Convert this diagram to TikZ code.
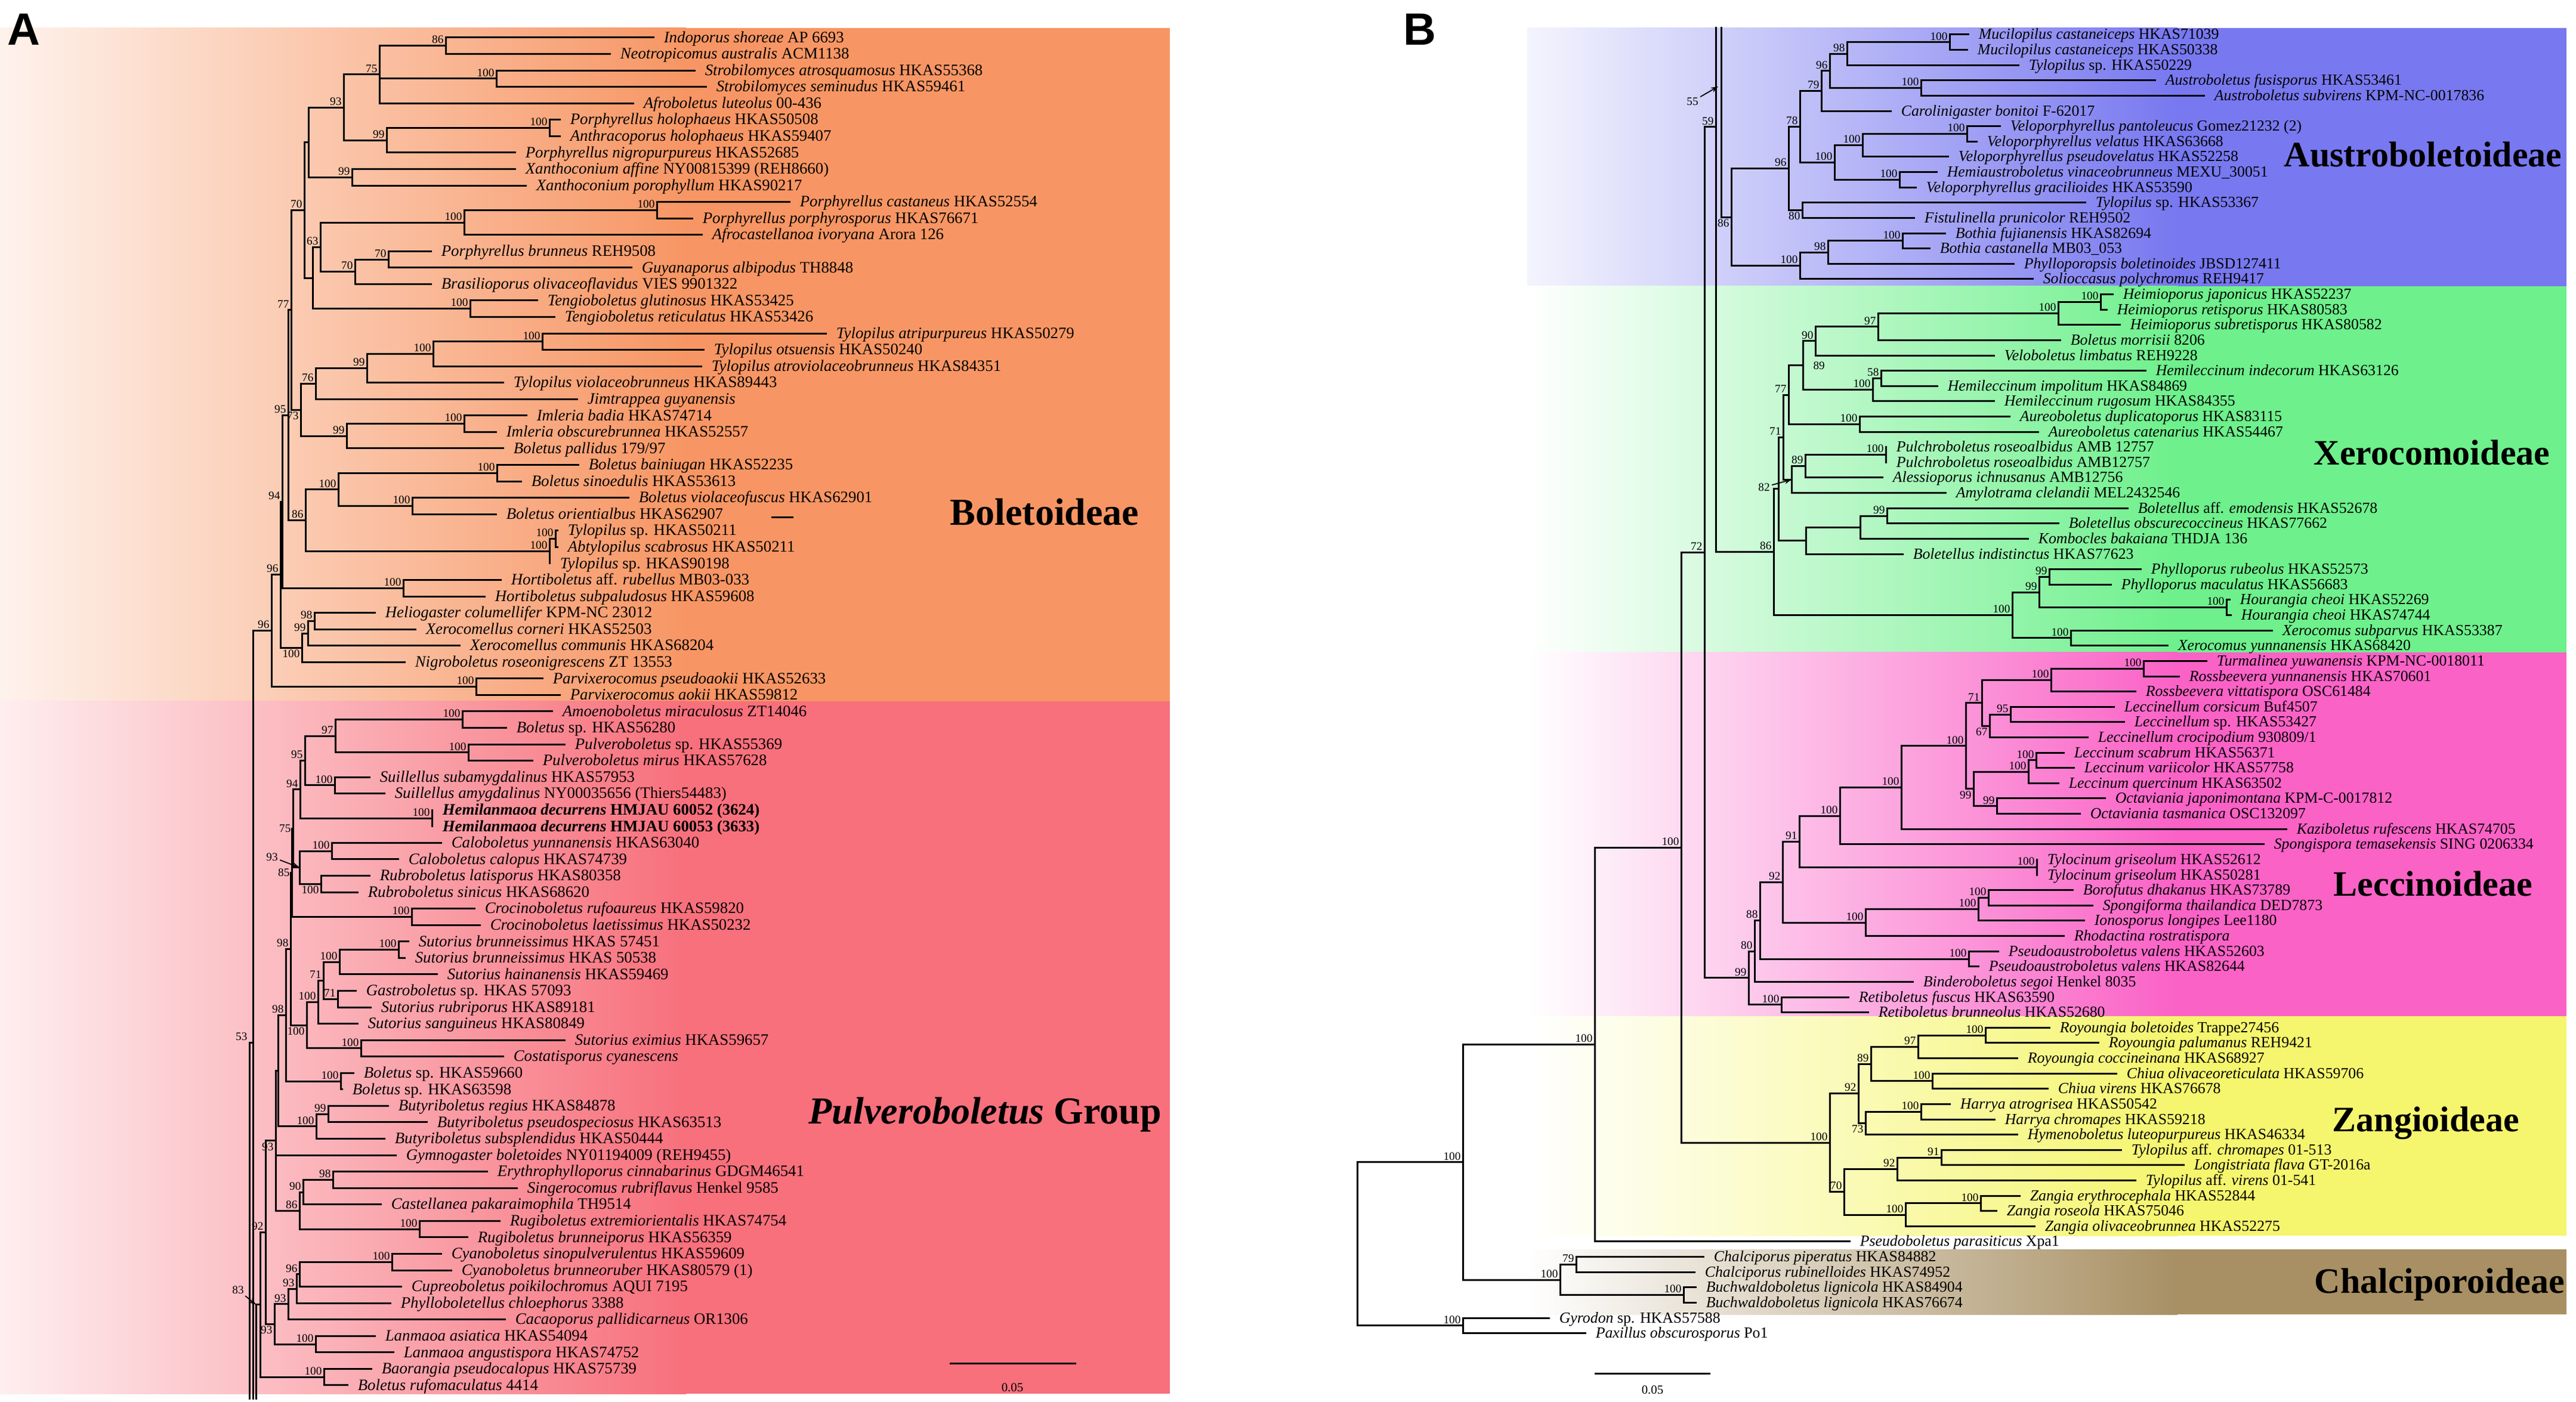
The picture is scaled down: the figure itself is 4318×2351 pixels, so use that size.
\documentclass[tikz,border=0pt]{standalone}
\usepackage{fontspec}
\setmainfont{Liberation Serif}
\newfontfamily\lsans{Liberation Sans}
\usetikzlibrary{calc,arrows.meta}
\definecolor{bolc}{RGB}{247,150,100}
\definecolor{pulc}{RGB}{247,112,124}
\definecolor{ausc}{RGB}{120,120,240}
\definecolor{xerc}{RGB}{110,240,140}
\definecolor{lecc}{RGB}{250,98,198}
\definecolor{zanc}{RGB}{245,245,110}
\definecolor{chac}{RGB}{168,144,100}
\newcommand\ti[1]{\textit{#1}}
\tikzset{
 br/.style={line width=0.75pt, line cap=rect},
 lfA/.style={anchor=base west, inner sep=0pt, yshift=-2.05pt, font=\fontsize{6.7}{7}\selectfont},
 lfB/.style={anchor=base west, inner sep=0pt, yshift=-2pt, font=\fontsize{6.45}{7}\selectfont},
 bs/.style={inner sep=0.7pt, font=\fontsize{4.8}{5}\selectfont},
 bsb/.style={anchor=north east},
 bsl/.style={anchor=east},
 arr/.style={-{Stealth[length=3pt,width=2.2pt]}, line width=0.45pt},
 clade/.style={anchor=base west, inner sep=0pt, font=\bfseries\fontsize{15}{15}\selectfont},
 cladeA/.style={anchor=base west, inner sep=0pt, font=\bfseries\fontsize{16}{16}\selectfont},
 panel/.style={anchor=north west, inner sep=0pt, font=\lsans\bfseries\fontsize{19}{19}\selectfont},
 sbar/.style={line width=0.75pt},
 sblab/.style={inner sep=0pt, font=\fontsize{5.2}{6}\selectfont}
}
\newcommand\LA[3]{\coordinate (la#1) at (#2,{63+(#1-1)*27.56});\node[lfA] (ta#1) at ($(la#1)+(17,0)$) {#3};}
\newcommand\LB[3]{\coordinate (lb#1) at (#2,{58+(#1-1)*25.62});\node[lfB] (tb#1) at ($(lb#1)+(17,0)$) {#3};}
\newcommand\CL[7][anchor=south east]{%
 \coordinate (#2x) at (#3,0);
 \path ($(#4)!0.5!(#5)$) coordinate (#2m);
 \coordinate (#2) at (#2x |- #2m);
 \draw[br] (#2 |- #4) -- (#2 |- #5);
 \foreach \ch in {#6} {\draw[br] (#2 |- \ch) -- (\ch);}
 \node[bs,#1] (#2l) at (#2) {#7};}
\newcommand\CB[6][anchor=south east]{\CL[#1]{#2}{#3}{#4}{#5}{#4,#5}{#6}}
\begin{document}
\begin{tikzpicture}[x=0.25pt,y=-0.25pt]
\useasboundingbox (0,0) rectangle (4318,2351);
\fill[white] (0,0) rectangle (4318,2351);
% ---------- backgrounds ----------
\shade[left color=bolc!12!white, right color=bolc] (0,47) rectangle (1150,1176);
\fill[bolc] (1149,47) rectangle (1961,1176);
\shade[left color=pulc!12!white, right color=pulc] (0,1176) rectangle (1150,2337);
\fill[pulc] (1149,1176) rectangle (1961,2337);
\shade[left color=ausc!8!white, right color=ausc] (2560,47) rectangle (3650,480);
\fill[ausc] (3649,47) rectangle (4302,480);
\shade[left color=white, right color=xerc] (2560,480) rectangle (3650,1094);
\fill[xerc] (3649,480) rectangle (4302,1094);
\shade[left color=white, right color=lecc] (2560,1094) rectangle (3650,1704);
\fill[lecc] (3649,1094) rectangle (4302,1704);
\shade[left color=white, right color=zanc] (2560,1704) rectangle (3650,2072);
\fill[zanc] (3649,1704) rectangle (4302,2072);
\shade[left color=white, right color=chac] (2560,2095) rectangle (3650,2204);
\fill[chac] (3649,2095) rectangle (4302,2204);
% ---------- panel A leaves ----------
\LA{1}{1095}{\ti{Indoporus shoreae} AP 6693}
\LA{2}{1022}{\ti{Neotropicomus australis} ACM1138}
\LA{3}{1164}{\ti{Strobilomyces atrosquamosus} HKAS55368}
\LA{4}{1183}{\ti{Strobilomyces seminudus} HKAS59461}
\LA{5}{1061}{\ti{Afroboletus luteolus} 00-436}
\LA{6}{938}{\ti{Porphyrellus holophaeus} HKAS50508}
\LA{7}{938}{\ti{Anthracoporus holophaeus} HKAS59407}
\LA{8}{863}{\ti{Porphyrellus nigropurpureus} HKAS52685}
\LA{9}{863}{\ti{Xanthoconium affine} NY00815399 (REH8660)}
\LA{10}{881}{\ti{Xanthoconium porophyllum} HKAS90217}
\LA{11}{1323}{\ti{Porphyrellus castaneus} HKAS52554}
\LA{12}{1160}{\ti{Porphyrellus porphyrosporus} HKAS76671}
\LA{13}{1176}{\ti{Afrocastellanoa ivoryana} Arora 126}
\LA{14}{722}{\ti{Porphyrellus brunneus} REH9508}
\LA{15}{1058}{\ti{Guyanaporus albipodus} TH8848}
\LA{16}{722}{\ti{Brasilioporus olivaceoflavidus} VIES 9901322}
\LA{17}{900}{\ti{Tengioboletus glutinosus} HKAS53425}
\LA{18}{929}{\ti{Tengioboletus reticulatus} HKAS53426}
\LA{19}{1384}{\ti{Tylopilus atripurpureus} HKAS50279}
\LA{20}{1179}{\ti{Tylopilus otsuensis} HKAS50240}
\LA{21}{1175}{\ti{Tylopilus atroviolaceobrunneus} HKAS84351}
\LA{22}{843}{\ti{Tylopilus violaceobrunneus} HKAS89443}
\LA{23}{967}{\ti{Jimtrappea guyanensis}}
\LA{24}{882}{\ti{Imleria badia} HKAS74714}
\LA{25}{831}{\ti{Imleria obscurebrunnea} HKAS52557}
\LA{26}{843}{\ti{Boletus pallidus} 179/97}
\LA{27}{969}{\ti{Boletus bainiugan} HKAS52235}
\LA{28}{873}{\ti{Boletus sinoedulis} HKAS53613}
\LA{29}{1053}{\ti{Boletus violaceofuscus} HKAS62901}
\LA{30}{831}{\ti{Boletus orientialbus} HKAS62907}
\LA{31}{934}{\ti{Tylopilus} sp. HKAS50211}
\LA{32}{934}{\ti{Abtylopilus scabrosus} HKAS50211}
\LA{33}{921}{\ti{Tylopilus} sp. HKAS90198}
\LA{34}{839}{\ti{Hortiboletus} aff. \ti{rubellus} MB03-033}
\LA{35}{812}{\ti{Hortiboletus subpaludosus} HKAS59608}
\LA{36}{628}{\ti{Heliogaster columellifer} KPM-NC 23012}
\LA{37}{696}{\ti{Xerocomellus corneri} HKAS52503}
\LA{38}{770}{\ti{Xerocomellus communis} HKAS68204}
\LA{39}{678}{\ti{Nigroboletus roseonigrescens} ZT 13553}
\LA{40}{909}{\ti{Parvixerocomus pseudoaokii} HKAS52633}
\LA{41}{938}{\ti{Parvixerocomus aokii} HKAS59812}
\LA{42}{925}{\ti{Amoenoboletus miraculosus} ZT14046}
\LA{43}{848}{\ti{Boletus} sp. HKAS56280}
\LA{44}{946}{\ti{Pulveroboletus} sp. HKAS55369}
\LA{45}{892}{\ti{Pulveroboletus mirus} HKAS57628}
\LA{46}{619}{\ti{Suillellus subamygdalinus} HKAS57953}
\LA{47}{644}{\ti{Suillellus amygdalinus} NY00035656 (Thiers54483)}
\LA{48}{724}{\textbf{\ti{Hemilanmaoa decurrens} HMJAU 60052 (3624)}}
\LA{49}{724}{\textbf{\ti{Hemilanmaoa decurrens} HMJAU 60053 (3633)}}
\LA{50}{739}{\ti{Caloboletus yunnanensis} HKAS63040}
\LA{51}{667}{\ti{Caloboletus calopus} HKAS74739}
\LA{52}{619}{\ti{Rubroboletus latisporus} HKAS80358}
\LA{53}{599}{\ti{Rubroboletus sinicus} HKAS68620}
\LA{54}{795}{\ti{Crocinoboletus rufoaureus} HKAS59820}
\LA{55}{804}{\ti{Crocinoboletus laetissimus} HKAS50232}
\LA{56}{684}{\ti{Sutorius brunneissimus} HKAS 57451}
\LA{57}{678}{\ti{Sutorius brunneissimus} HKAS 50538}
\LA{58}{732}{\ti{Sutorius hainanensis} HKAS59469}
\LA{59}{596}{\ti{Gastroboletus} sp. HKAS 57093}
\LA{60}{621}{\ti{Sutorius rubriporus} HKAS89181}
\LA{61}{599}{\ti{Sutorius sanguineus} HKAS80849}
\LA{62}{946}{\ti{Sutorius eximius} HKAS59657}
\LA{63}{843}{\ti{Costatisporus cyanescens}}
\LA{64}{592}{\ti{Boletus} sp. HKAS59660}
\LA{65}{573}{\ti{Boletus} sp. HKAS63598}
\LA{66}{650}{\ti{Butyriboletus regius} HKAS84878}
\LA{67}{715}{\ti{Butyriboletus pseudospeciosus} HKAS63513}
\LA{68}{644}{\ti{Butyriboletus subsplendidus} HKAS50444}
\LA{69}{663}{\ti{Gymnogaster boletoides} NY01194009 (REH9455)}
\LA{70}{816}{\ti{Erythrophylloporus cinnabarinus} GDGM46541}
\LA{71}{866}{\ti{Singerocomus rubriflavus} Henkel 9585}
\LA{72}{638}{\ti{Castellanea pakaraimophila} TH9514}
\LA{73}{837}{\ti{Rugiboletus extremiorientalis} HKAS74754}
\LA{74}{783}{\ti{Rugiboletus brunneiporus} HKAS56359}
\LA{75}{739}{\ti{Cyanoboletus sinopulverulentus} HKAS59609}
\LA{76}{756}{\ti{Cyanoboletus brunneoruber} HKAS80579 (1)}
\LA{77}{672}{\ti{Cupreoboletus poikilochromus} AQUI 7195}
\LA{78}{654}{\ti{Phylloboletellus chloephorus} 3388}
\LA{79}{846}{\ti{Cacaoporus pallidicarneus} OR1306}
\LA{80}{628}{\ti{Lanmaoa asiatica} HKAS54094}
\LA{81}{659}{\ti{Lanmaoa angustispora} HKAS74752}
\LA{82}{622}{\ti{Baorangia pseudocalopus} HKAS75739}
\LA{83}{582}{\ti{Boletus rufomaculatus} 4414}
% ---------- panel A clades ----------
\CB{a1}{747}{la1}{la2}{86}
\CB{a2}{832}{la3}{la4}{100}
\CL{a3}{636}{a1}{la5}{a1,a2,la5}{75}
\CB{a4}{921}{la6}{la7}{100}
\CB{a5}{648}{a4}{la8}{99}
\CB{a6}{576}{a3}{a5}{93}
\CB{a7}{590}{la9}{la10}{99}
\CB{a8}{517}{a6}{a7}{}
\CB{a9}{1101}{la11}{la12}{100}
\CB{a10}{778}{a9}{la13}{100}
\CB{a11}{651}{la14}{la15}{70}
\CB{a12}{595}{a11}{la16}{70}
\CB{a13}{537}{a10}{a12}{63}
\CB{a14}{788}{la17}{la18}{100}
\CB{a15}{524}{a13}{a14}{}
\CB{a16}{510}{a8}{a15}{70}
\CB{a17}{909}{la19}{la20}{100}
\CB{a18}{726}{a17}{la21}{100}
\CB{a19}{615}{a18}{la22}{99}
\CB{a20}{529}{a19}{la23}{76}
\CB{a21}{778}{la24}{la25}{100}
\CB{a22}{581}{a21}{la26}{99}
\CB[bsb]{a23}{504}{a20}{a22}{73}
\CB{a24}{488}{a16}{a23}{77}
\CB{a38}{833}{la27}{la28}{100}
\CB{a39}{691}{la29}{la30}{100}
\CB{a40}{567}{a38}{a39}{100}
\CB{a31}{931}{la31}{la32}{100}
\CB{a32}{921}{a31}{la33}{100}
\CB{a30}{512}{a40}{a32}{86}
\CB{a25}{483}{a24}{a30}{95}
\CB{a33}{676}{la34}{la35}{100}
\CB{a26}{473}{a25}{a33}{94}
\CB{a34}{527}{la36}{la37}{98}
\CB{a35}{516}{a34}{la38}{99}
\CB[bsb]{a36}{506}{a35}{la39}{100}
\CB{a27}{470}{a26}{a36}{96}
\CB{a37}{798}{la40}{la41}{100}
\CB{a28}{455}{a27}{a37}{96}
\coordinate (dashA) at (1294,868);
\coordinate (dashB) at (1328,868);
\draw[br] (dashA) -- (dashB);
% Pulveroboletus group
\CB{p1}{775}{la42}{la43}{100}
\CB{p2}{785}{la44}{la45}{100}
\CB{p3}{562}{p1}{p2}{97}
\CB{p4}{561}{la46}{la47}{100}
\CB{p5}{511}{p3}{p4}{95}
\CB{p6}{724}{la48}{la49}{100}
\CB{p7}{503}{p5}{p6}{94}
\CB{p8}{556}{la50}{la51}{100}
\CB[bsb]{p9}{538}{la52}{la53}{100}
\CB{p10}{502}{p8}{p9}{}
\CB[bsl]{q1}{491}{p7}{p10}{75}
\CB{p12}{690}{la54}{la55}{100}
\CB[bsl]{q2}{489}{q1}{p12}{85}
\CB{p13}{668}{la56}{la57}{100}
\CB{p14}{569}{p13}{la58}{100}
\CB{p15}{566}{la59}{la60}{71}
\CB{p16}{542}{p14}{p15}{71}
\CB{p17}{533}{p16}{la61}{100}
\CB{p18}{605}{la62}{la63}{100}
\CB[bsb]{p19}{514}{p17}{p18}{100}
\CB{q3}{487}{q2}{p19}{98}
\CB{p20}{571}{la64}{la65}{100}
\CB{q4}{479}{q3}{p20}{98}
\CB{p22}{550}{la66}{la67}{99}
\CB{p23}{530}{p22}{la68}{100}
\CB{q5}{466}{q4}{p23}{}
\CB{p24}{558}{la70}{la71}{98}
\CB{p25}{508}{p24}{la72}{90}
\CB{p26}{703}{la73}{la74}{100}
\CB{p27}{502}{p25}{p26}{86}
\CL[bsb]{q6}{462}{q5}{p27}{q5,la69,p27}{93}
\CB{p28}{657}{la75}{la76}{100}
\CB{p29}{502}{p28}{la77}{96}
\CB{p30}{497}{p29}{la78}{93}
\CB{p31}{483}{p30}{la79}{93}
\CB{p32}{529}{la80}{la81}{100}
\CB[bsb]{p33}{460}{p31}{p32}{93}
\CB{q7}{445}{q6}{p33}{92}
\CB{p34}{543}{la82}{la83}{100}
\CB{q8}{436}{q7}{p34}{}
\node[bs] (l93) at (456,1437) {93};
\draw[arr] (l93) -- (p10);
% lines towards the root (cut at the bottom)
\coordinate (rA1) at (424,2345);
\draw[br] (rA1 |- a28) -- (a28);
\draw[br] (rA1 |- a28) -- (rA1);
\coordinate (rA2) at (418,1748);
\coordinate (rA2b) at (418,2345);
\draw[br] (rA2) -- (rA2b);
\draw[br] (rA2) -- (rA1 |- rA2);
\node[bs,anchor=south east] (l53) at (rA2) {53};
\coordinate (rA3) at (429,2345);
\draw[br] (rA3 |- q8) -- (q8);
\draw[br] (rA3 |- q8) -- (rA3);
\node[bs] (l83) at (399,2163) {83};
\draw[arr] (l83) -- (rA3 |- q8);
% ---------- panel B leaves ----------
\LB{1}{3299}{\ti{Mucilopilus castaneiceps} HKAS71039}
\LB{2}{3297}{\ti{Mucilopilus castaneiceps} HKAS50338}
\LB{3}{3383}{\ti{Tylopilus} sp. HKAS50229}
\LB{4}{3612}{\ti{Austroboletus fusisporus} HKAS53461}
\LB{5}{3694}{\ti{Austroboletus subvirens} KPM-NC-0017836}
\LB{6}{3169}{\ti{Carolinigaster bonitoi} F-62017}
\LB{7}{3352}{\ti{Veloporphyrellus pantoleucus} Gomez21232 (2)}
\LB{8}{3313}{\ti{Veloporphyrellus velatus} HKAS63668}
\LB{9}{3265}{\ti{Veloporphyrellus pseudovelatus} HKAS52258}
\LB{10}{3246}{\ti{Hemiaustroboletus vinaceobrunneus} MEXU\_30051}
\LB{11}{3211}{\ti{Veloporphyrellus gracilioides} HKAS53590}
\LB{12}{3495}{\ti{Tylopilus} sp. HKAS53367}
\LB{13}{3208}{\ti{Fistulinella prunicolor} REH9502}
\LB{14}{3260}{\ti{Bothia fujianensis} HKAS82694}
\LB{15}{3234}{\ti{Bothia castanella} MB03\_053}
\LB{16}{3375}{\ti{Phylloporopsis boletinoides} JBSD127411}
\LB{17}{3407}{\ti{Solioccasus polychromus} REH9417}
\LB{18}{3541}{\ti{Heimioporus japonicus} HKAS52237}
\LB{19}{3531}{\ti{Heimioporus retisporus} HKAS80583}
\LB{20}{3553}{\ti{Heimioporus subretisporus} HKAS80582}
\LB{21}{3453}{\ti{Boletus morrisii} 8206}
\LB{22}{3342}{\ti{Veloboletus limbatus} REH9228}
\LB{23}{3596}{\ti{Hemileccinum indecorum} HKAS63126}
\LB{24}{3247}{\ti{Hemileccinum impolitum} HKAS84869}
\LB{25}{3342}{\ti{Hemileccinum rugosum} HKAS84355}
\LB{26}{3368}{\ti{Aureoboletus duplicatoporus} HKAS83115}
\LB{27}{3416}{\ti{Aureoboletus catenarius} HKAS54467}
\LB{28}{3161}{\ti{Pulchroboletus roseoalbidus} AMB 12757}
\LB{29}{3161}{\ti{Pulchroboletus roseoalbidus} AMB12757}
\LB{30}{3155}{\ti{Alessioporus ichnusanus} AMB12756}
\LB{31}{3261}{\ti{Amylotrama clelandii} MEL2432546}
\LB{32}{3566}{\ti{Boletellus} aff. \ti{emodensis} HKAS52678}
\LB{33}{3450}{\ti{Boletellus obscurecoccineus} HKAS77662}
\LB{34}{3399}{\ti{Kombocles bakaiana} THDJA 136}
\LB{35}{3189}{\ti{Boletellus indistinctus} HKAS77623}
\LB{36}{3588}{\ti{Phylloporus rubeolus} HKAS52573}
\LB{37}{3538}{\ti{Phylloporus maculatus} HKAS56683}
\LB{38}{3737}{\ti{Hourangia cheoi} HKAS52269}
\LB{39}{3739}{\ti{Hourangia cheoi} HKAS74744}
\LB{40}{3808}{\ti{Xerocomus subparvus} HKAS53387}
\LB{41}{3633}{\ti{Xerocomus yunnanensis} HKAS68420}
\LB{42}{3698}{\ti{Turmalinea yuwanensis} KPM-NC-0018011}
\LB{43}{3652}{\ti{Rossbeevera yunnanensis} HKAS70601}
\LB{44}{3579}{\ti{Rossbeevera vittatispora} OSC61484}
\LB{45}{3543}{\ti{Leccinellum corsicum} Buf4507}
\LB{46}{3560}{\ti{Leccinellum} sp. HKAS53427}
\LB{47}{3499}{\ti{Leccinellum crocipodium} 930809/1}
\LB{48}{3459}{\ti{Leccinum scabrum} HKAS56371}
\LB{49}{3476}{\ti{Leccinum variicolor} HKAS57758}
\LB{50}{3450}{\ti{Leccinum quercinum} HKAS63502}
\LB{51}{3528}{\ti{Octaviania japonimontana} KPM-C-0017812}
\LB{52}{3486}{\ti{Octaviania tasmanica} OSC132097}
\LB{53}{3832}{\ti{Kaziboletus rufescens} HKAS74705}
\LB{54}{3794}{\ti{Spongispora temasekensis} SING 0206334}
\LB{55}{3414}{\ti{Tylocinum griseolum} HKAS52612}
\LB{56}{3414}{\ti{Tylocinum griseolum} HKAS50281}
\LB{57}{3474}{\ti{Borofutus dhakanus} HKAS73789}
\LB{58}{3507}{\ti{Spongiforma thailandica} DED7873}
\LB{59}{3493}{\ti{Ionosporus longipes} Lee1180}
\LB{60}{3459}{\ti{Rhodactina rostratispora}}
\LB{61}{3349}{\ti{Pseudoaustroboletus valens} HKAS52603}
\LB{62}{3316}{\ti{Pseudoaustroboletus valens} HKAS82644}
\LB{63}{3206}{\ti{Binderoboletus segoi} Henkel 8035}
\LB{64}{3098}{\ti{Retiboletus fuscus} HKAS63590}
\LB{65}{3131}{\ti{Retiboletus brunneolus} HKAS52680}
\LB{66}{3435}{\ti{Royoungia boletoides} Trappe27456}
\LB{67}{3517}{\ti{Royoungia palumanus} REH9421}
\LB{68}{3381}{\ti{Royoungia coccineinana} HKAS68927}
\LB{69}{3547}{\ti{Chiua olivaceoreticulata} HKAS59706}
\LB{70}{3432}{\ti{Chiua virens} HKAS76678}
\LB{71}{3268}{\ti{Harrya atrogrisea} HKAS50542}
\LB{72}{3343}{\ti{Harrya chromapes} HKAS59218}
\LB{73}{3381}{\ti{Hymenoboletus luteopurpureus} HKAS46334}
\LB{74}{3555}{\ti{Tylopilus} aff. \ti{chromapes} 01-513}
\LB{75}{3660}{\ti{Longistriata flava} GT-2016a}
\LB{76}{3579}{\ti{Tylopilus} aff. \ti{virens} 01-541}
\LB{77}{3385}{\ti{Zangia erythrocephala} HKAS52844}
\LB{78}{3346}{\ti{Zangia roseola} HKAS75046}
\LB{79}{3410}{\ti{Zangia olivaceobrunnea} HKAS52275}
\LB{80}{3100}{\ti{Pseudoboletus parasiticus} Xpa1}
\LB{81}{2855}{\ti{Chalciporus piperatus} HKAS84882}
\LB{82}{2840}{\ti{Chalciporus rubinelloides} HKAS74952}
\LB{83}{2842}{\ti{Buchwaldoboletus lignicola} HKAS84904}
\LB{84}{2842}{\ti{Buchwaldoboletus lignicola} HKAS76674}
\LB{85}{2596}{\ti{Gyrodon} sp. HKAS57588}
\LB{86}{2657}{\ti{Paxillus obscurosporus} Po1}
% ---------- panel B clades ----------
\CB{b1}{3268}{lb1}{lb2}{100}
\CB{b2}{3096}{b1}{lb3}{98}
\CB{b3}{3220}{lb4}{lb5}{100}
\CB{b4}{3067}{b2}{b3}{96}
\CB{b5}{3053}{b4}{lb6}{79}
\CB{b6}{3297}{lb7}{lb8}{100}
\CB{b7}{3122}{b6}{lb9}{100}
\CB{b8}{3184}{lb10}{lb11}{100}
\CB{b9}{3075}{b7}{b8}{100}
\CB{b10}{3017}{b5}{b9}{78}
\CB[bsb]{b11}{3021}{lb12}{lb13}{80}
\CB{b12}{2998}{b10}{b11}{96}
\CB{b13}{3189}{lb14}{lb15}{100}
\CB{b14}{3064}{b13}{lb16}{98}
\CB{b15}{3017}{b14}{lb17}{100}
\CB[bsb]{b16}{2902}{b12}{b15}{86}
\CB{x1}{3521}{lb18}{lb19}{100}
\CB{x2}{3450}{x1}{lb20}{100}
\CB{x3}{3148}{x2}{lb21}{97}
\CB{x4}{3043}{x3}{lb22}{90}
\CB{x5}{3153}{lb23}{lb24}{58}
\CB{x6}{3139}{x5}{lb25}{100}
\CB[anchor=west,xshift=3.5pt]{x7}{3022}{x4}{x6}{89}
\CB{x8}{3117}{lb26}{lb27}{100}
\CB{x9}{2998}{x7}{x8}{77}
\CB{x10}{3161}{lb28}{lb29}{100}
\CB{x11}{3026}{x10}{lb30}{89}
\CB{x12}{3003}{x11}{lb31}{}
\CB{x13}{2989}{x9}{x12}{71}
\CB{x14}{3163}{lb32}{lb33}{99}
\CB{x15}{3118}{x14}{lb34}{}
\CB{x16}{3027}{x15}{lb35}{}
\CB{xb}{2981}{x13}{x16}{}
\CB{x17}{3435}{lb36}{lb37}{99}
\CB{x18}{3732}{lb38}{lb39}{100}
\CB{x19}{3418}{x17}{x18}{99}
\CB{x20}{3471}{lb40}{lb41}{100}
\CB{x21}{3373}{x19}{x20}{100}
\CB{xa}{2973}{xb}{x21}{86}
\node[bs] (l82) at (2957,817) {82};
\draw[arr] (l82) -- (x12);
\CB{l1}{3593}{lb42}{lb43}{100}
\CB{l2}{3438}{l1}{lb44}{100}
\CB{l3}{3370}{lb45}{lb46}{95}
\CB[bsb]{l4}{3335}{l3}{lb47}{67}
\CB{l5}{3322}{l2}{l4}{71}
\CB{l6}{3413}{lb48}{lb49}{100}
\CB{l7}{3400}{l6}{lb50}{100}
\CB{l8}{3347}{lb51}{lb52}{99}
\CB[bsb]{l9}{3308}{l7}{l8}{99}
\CB{l10}{3295}{l5}{l9}{100}
\CB{l11}{3187}{l10}{lb53}{100}
\CB{l12}{3084}{l11}{lb54}{100}
\CB{l13}{3414}{lb55}{lb56}{100}
\CB{l14}{3016}{l12}{l13}{91}
\CB{l15}{3333}{lb57}{lb58}{100}
\CB{l16}{3316}{l15}{lb59}{100}
\CB{l17}{3127}{l16}{lb60}{100}
\CB{l18}{2988}{l14}{l17}{92}
\CB{l19}{3300}{lb61}{lb62}{100}
\CB{l20}{2950}{l18}{l19}{88}
\CB{l21}{2941}{l20}{lb63}{80}
\CB{l22}{2986}{lb64}{lb65}{100}
\CB{l23}{2931}{l21}{l22}{99}
\CB{z1}{3328}{lb66}{lb67}{100}
\CB{z2}{3215}{z1}{lb68}{97}
\CB{z3}{3239}{lb69}{lb70}{100}
\CB{z4}{3136}{z2}{z3}{89}
\CB{z5}{3220}{lb71}{lb72}{100}
\CB[bsb]{z6}{3127}{z5}{lb73}{73}
\CB{z7}{3115}{z4}{z6}{92}
\CB{z8}{3254}{lb74}{lb75}{91}
\CB{z9}{3180}{z8}{lb76}{92}
\CB{z10}{3320}{lb77}{lb78}{100}
\CB{z11}{3194}{z10}{lb79}{100}
\CB{z12}{3091}{z9}{z11}{70}
\CB{z13}{3067}{z7}{z12}{100}
% spine of panel B (continues upward out of the panel)
\coordinate (W) at (2876,213);
\coordinate (Wtop) at (2876,47);
\draw[br] (Wtop) -- (W |- xa) -- (xa);
\node[bs,anchor=south east] (l59) at (W) {59};
\coordinate (Vtop) at (2885,47);
\draw[br] (Vtop) -- (Vtop |- b16) -- (b16);
\coordinate (v55) at (2880,145);
\node[bs] (l55) at (2837,170) {55};
\draw[arr] (l55) -- (v55);
\CB{r7}{2857}{W}{l23}{72}
\CB{r6}{2818}{r7}{z13}{100}
\CB{r3}{2673}{r6}{lb80}{100}
\CB{c1}{2642}{lb81}{lb82}{79}
\CB{r5}{2822}{lb83}{lb84}{100}
\CB{r4}{2615}{c1}{r5}{100}
\CB{r1}{2452}{r3}{r4}{100}
\CB{r2}{2452}{lb85}{lb86}{100}
\CB{r0}{2275}{r1}{r2}{}
% ---------- clade labels ----------
\node[cladeA] (cBol) at (1592,881) {Boletoideae};
\node[cladeA] (cPul) at (1355,1884) {\ti{Pulveroboletus} Group};
\node[clade] (cAus) at (3828,280) {Austroboletoideae};
\node[clade] (cXer) at (3878,780) {Xerocomoideae};
\node[clade] (cLec) at (3911,1503) {Leccinoideae};
\node[clade] (cZan) at (3909,1897) {Zangioideae};
\node[clade] (cCha) at (3879,2168) {Chalciporoideae};
% ---------- panel letters ----------
\node[panel] (pA) at (12,22) {A};
\node[panel] (pB) at (2352,22) {B};
% ---------- scale bars ----------
\coordinate (sA1) at (1592,2286);
\coordinate (sA2) at (1804,2286);
\draw[sbar] (sA1) -- (sA2);
\node[sblab] (sAl) at (1697,2327) {0.05};
\coordinate (sB1) at (2673,2303);
\coordinate (sB2) at (2867,2303);
\draw[sbar] (sB1) -- (sB2);
\node[sblab] (sBl) at (2770,2331) {0.05};
\end{tikzpicture}
\end{document}
